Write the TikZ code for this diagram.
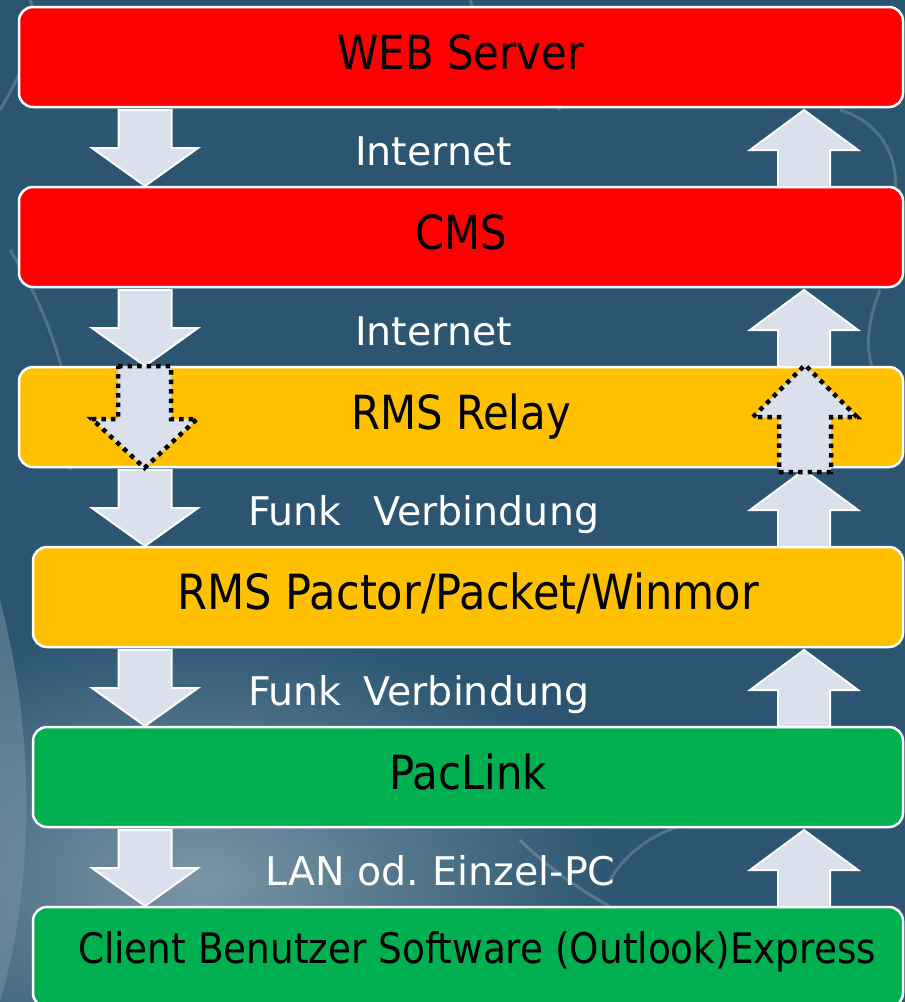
\documentclass[tikz,border=0pt]{standalone}
\usepackage{fontspec}
\setmainfont{DejaVu Sans}[FakeStretch=0.89]
\newfontfamily\labfont{DejaVu Sans}
\definecolor{bgc}{HTML}{2B5571}
\definecolor{bglight}{HTML}{7A95A5}
\definecolor{boxred}{HTML}{FF0000}
\definecolor{boxamber}{HTML}{FFC000}
\definecolor{boxgreen}{HTML}{00B050}
\definecolor{arrfill}{HTML}{DAE1EC}
\tikzset{
  box/.style={draw=white, line width=2.5pt, rounded corners=14pt, minimum height=100pt,
    font=\fontsize{47}{50}\selectfont, text=black, text height=34pt, text depth=10pt, inner sep=0pt},
  lab/.style={text=white, font=\labfont\fontsize{39.5}{41}\selectfont, anchor=base west, inner sep=0pt},
  blockarrow/.style={fill=arrfill, draw=white, line width=2pt, line join=miter},
  dotb/.style={draw=black, line width=4.5pt, dash pattern=on 4.5pt off 5pt},
  swirl/.style={draw=white, opacity=0.18, line width=3pt}
}
\newcommand\BArr[7][]{\draw[blockarrow,#1] ({#2-#6},#3) -- ({#2+#6},#3) -- ({#2+#6},#4) -- ({#2+#7},#4) -- (#2,#5) -- ({#2-#7},#4) -- ({#2-#6},#4) -- cycle;}
\begin{document}
\begin{tikzpicture}[x=1pt,y=-1pt]
\useasboundingbox (0,0) rectangle (905,1002);
\clip (0,0) rectangle (905,1002);
% background
\fill[bgc] (0,0) rectangle (905,1002);
\shade[inner color=bglight, outer color=bgc] (200,880) ellipse (420 and 260);
\fill[bglight, opacity=0.5] (0,600) .. controls (40,750) and (30,900) .. (0,1002) -- cycle;
\draw[swirl] (0,110) .. controls (30,60) and (40,20) .. (30,0);
\draw[swirl] (10,250) .. controls (60,330) and (80,420) .. (70,470);
\draw[swirl] (840,110) .. controls (905,130) and (905,200) .. (880,230);
\draw[swirl] (880,290) .. controls (860,340) and (870,370) .. (880,380);
\draw[swirl] (470,0) .. controls (480,30) and (520,60) .. (560,110);
\draw[swirl] (610,880) .. controls (640,830) and (700,810) .. (760,827);
\draw[swirl] (520,840) .. controls (560,880) and (600,900) .. (610,907);
% boxes
\node[box, fill=boxred, minimum width=884pt] (web) at (461,57) {WEB Server};
\node[box, fill=boxred, minimum width=884pt] (cms) at (461,237) {CMS};
\node[box, fill=boxamber, minimum width=884pt] (relay) at (461,417) {RMS Relay};
\node[box, fill=boxamber, minimum width=870pt, font=\fontsize{48.5}{50}\selectfont] (pactor) at (468,597) {RMS Pactor/Packet/Winmor};
\node[box, fill=boxgreen, minimum width=870pt] (paclink) at (468,777) {PacLink};
\node[box, fill=boxgreen, minimum width=870pt, font=\fontsize{42}{44}\selectfont, text height=31pt, text depth=19pt] (client) at (468,957) {\hspace{18pt}Client Benutzer Software (Outlook)Express};
% labels
\node[lab] (l1) at (355,165) {Internet};
\node[lab] (l2) at (355,345) {Internet};
\node[lab] (l3) at (248,525) {Funk\hspace{0.8em}Verbindung};
\node[lab] (l4) at (248,705) {Funk\hspace{0.55em}Verbindung};
\node[lab] (l5) at (265,885) {LAN od.\hspace{0.35em}Einzel-PC};
% regular arrows
\foreach \g in {107,287,467,647,827}{
  \BArr{145}{\g+3}{\g+41}{\g+79}{26.5}{53}
  \BArr{804}{\g+80}{\g+43}{\g+3}{26}{54}
}
% dotted arrows in relay
\BArr[dotb]{144.5}{366}{419}{468}{26.5}{52.5}
\BArr[dotb]{805}{472}{417}{365}{26}{52}
\end{tikzpicture}
\end{document}
